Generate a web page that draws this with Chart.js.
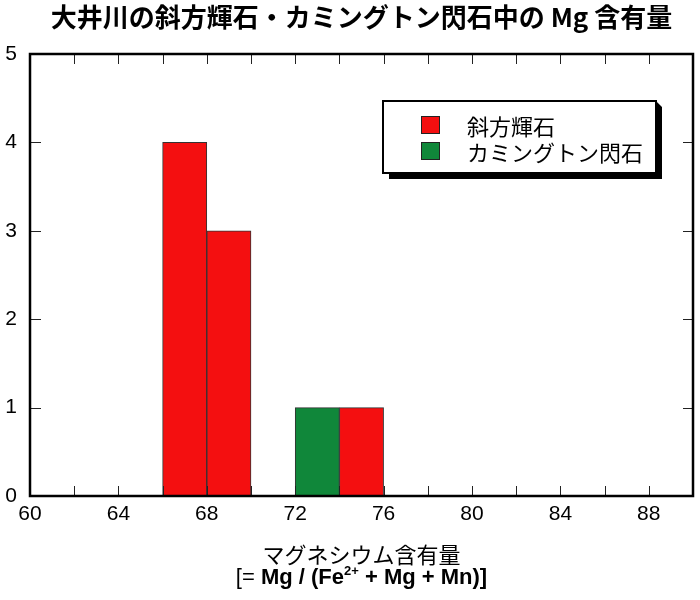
<!DOCTYPE html>
<html>
<head>
<meta charset="utf-8">
<script src="https://cdn.jsdelivr.net/npm/chart.js@4.4.1/dist/chart.umd.min.js"></script>
<style>
  html, body { margin: 0; padding: 0; background: #fff; }
  #wrap { width: 700px; height: 600px; position: relative; }
</style>
</head>
<body>
<div id="wrap"><canvas id="c" width="700" height="600"></canvas></div>
<script>
// ---- data ----
const titleText = '大井川の斜方輝石・カミングトン閃石中の Mg 含有量';
const xTitleLine1 = 'マグネシウム含有量';
const seriesNames = ['斜方輝石', 'カミングトン閃石'];
const binCenters = [61, 63, 65, 67, 69, 71, 73, 75, 77, 79, 81, 83, 85, 87, 89];
const orthoCounts = [0, 0, 0, 4, 3, 0, 0, 1, 0, 0, 0, 0, 0, 0, 0];
const cummCounts  = [0, 0, 0, 0, 0, 0, 1, 0, 0, 0, 0, 0, 0, 0, 0];
const xTickLabels = [60, 64, 68, 72, 76, 80, 84, 88];
const yTickLabels = [0, 1, 2, 3, 4, 5];

const RED = '#f40f10';
const GREEN = '#10873a';

function toPoints(counts) {
  return binCenters.map((x, i) => ({ x: x, y: counts[i] === 0 ? null : counts[i] }));
}

const sans = '"Liberation Sans", Arial, Helvetica, sans-serif';
const cjk = '"Noto Sans CJK JP", "Noto Sans", sans-serif';

const decorPlugin = {
  id: 'decor',
  afterDraw(chart) {
    const ctx = chart.ctx;
    const a = chart.chartArea;
    const xs = chart.scales.x, ys = chart.scales.y;
    const cx = (a.left + a.right) / 2;
    ctx.save();

    // inward tick marks on all four sides
    ctx.strokeStyle = '#222';
    ctx.lineWidth = 1;
    ctx.beginPath();
    xs.ticks.forEach(t => {
      const px = Math.round(xs.getPixelForValue(t.value)) + 0.5;
      if (t.value <= xs.min || t.value >= xs.max) return;
      ctx.moveTo(px, a.bottom); ctx.lineTo(px, a.bottom - 10);
      ctx.moveTo(px, a.top); ctx.lineTo(px, a.top + 10);
    });
    ys.ticks.forEach(t => {
      const py = Math.round(ys.getPixelForValue(t.value)) + 0.5;
      if (t.value <= ys.min || t.value >= ys.max) return;
      ctx.moveTo(a.left, py); ctx.lineTo(a.left + 11, py);
      ctx.moveTo(a.right, py); ctx.lineTo(a.right - 10, py);
    });
    ctx.stroke();

    // frame
    ctx.strokeStyle = '#000';
    ctx.lineWidth = 2.5;
    ctx.strokeRect(a.left, a.top, a.right - a.left, a.bottom - a.top);

    // title
    ctx.fillStyle = '#000';
    ctx.textAlign = 'center';
    ctx.textBaseline = 'middle';
    ctx.font = 'bold 26px ' + cjk;
    ctx.fillText(titleText, cx, 17);

    // x axis title line 1
    ctx.font = '22px ' + cjk;
    ctx.fillText(xTitleLine1, cx, 555);

    // x axis title line 2 with superscript
    const mainFont = 'bold 22px ' + sans;
    const supFont = 'bold 13px ' + sans;
    const parts = [
      { t: '[= ', f: '22px ' + sans, sup: false },
      { t: 'Mg / (Fe', f: mainFont, sup: false },
      { t: '2+', f: supFont, sup: true },
      { t: ' + Mg + Mn)]', f: mainFont, sup: false }
    ];
    let total = 0;
    parts.forEach(p => { ctx.font = p.f; p.w = ctx.measureText(p.t).width; total += p.w; });
    let x = cx - total / 2;
    ctx.textAlign = 'left';
    ctx.textBaseline = 'alphabetic';
    parts.forEach(p => {
      ctx.font = p.f;
      ctx.fillText(p.t, x, p.sup ? 575 : 584);
      x += p.w;
    });

    // legend box with shadow
    const L = 383, T = 101, W = 273, H = 72;
    ctx.fillStyle = '#000';
    ctx.beginPath();
    ctx.moveTo(L + 6, T + H);
    ctx.lineTo(L + 6, T + H + 6);
    ctx.lineTo(L + W + 6, T + H + 6);
    ctx.lineTo(L + W + 6, T + 6);
    ctx.lineTo(L + W, T);
    ctx.lineTo(L + W, T + H);
    ctx.closePath();
    ctx.fill();
    ctx.fillStyle = '#fff';
    ctx.fillRect(L, T, W, H);
    ctx.strokeStyle = '#000';
    ctx.lineWidth = 2;
    ctx.strokeRect(L, T, W, H);

    const rowsY = [125, 151];
    chart.data.datasets.forEach((ds, i) => {
      const y = rowsY[i];
      ctx.fillStyle = ds.backgroundColor;
      ctx.fillRect(421, y - 9, 19, 18);
      ctx.strokeStyle = '#222';
      ctx.lineWidth = 1;
      ctx.strokeRect(421.5, y - 8.5, 18, 17);
      ctx.fillStyle = '#000';
      ctx.font = '22px ' + cjk;
      ctx.textAlign = 'left';
      ctx.textBaseline = 'middle';
      ctx.fillText(ds.label, 467, y + 2);
    });

    ctx.restore();
  }
};

new Chart(document.getElementById('c'), {
  type: 'bar',
  data: {
    datasets: [
      {
        label: seriesNames[0],
        data: toPoints(orthoCounts),
        backgroundColor: RED,
        borderColor: '#333',
        borderWidth: 1,
        borderSkipped: false
      },
      {
        label: seriesNames[1],
        data: toPoints(cummCounts),
        backgroundColor: GREEN,
        borderColor: '#333',
        borderWidth: 1,
        borderSkipped: false
      }
    ]
  },
  options: {
    responsive: false,
    animation: false,
    devicePixelRatio: 1,
    layout: { padding: { top: 54, right: 7, left: 0, bottom: 0 } },
    plugins: { legend: { display: false }, title: { display: false }, tooltip: { enabled: false } },
    datasets: { bar: { grouped: false, barPercentage: 1, categoryPercentage: 1 } },
    scales: {
      x: {
        type: 'linear',
        min: 60, max: 90,
        offset: false,
        grid: { display: false, drawTicks: false },
        border: { display: false },
        ticks: {
          stepSize: 2,
          autoSkip: false,
          maxRotation: 0,
          padding: 6,
          color: '#000',
          font: { family: sans, size: 21 },
          callback: v => (xTickLabels.includes(v) ? String(v) : '')
        },
        afterFit: s => { s.height = 104; }
      },
      y: {
        min: 0, max: 5,
        grid: { display: false, drawTicks: false },
        border: { display: false },
        ticks: {
          stepSize: 1,
          padding: 13,
          color: '#000',
          font: { family: sans, size: 21 },
          callback: v => (yTickLabels.includes(v) ? String(v) : '')
        },
        afterFit: s => { s.width = 30; }
      }
    }
  },
  plugins: [decorPlugin]
});
</script>
</body>
</html>
